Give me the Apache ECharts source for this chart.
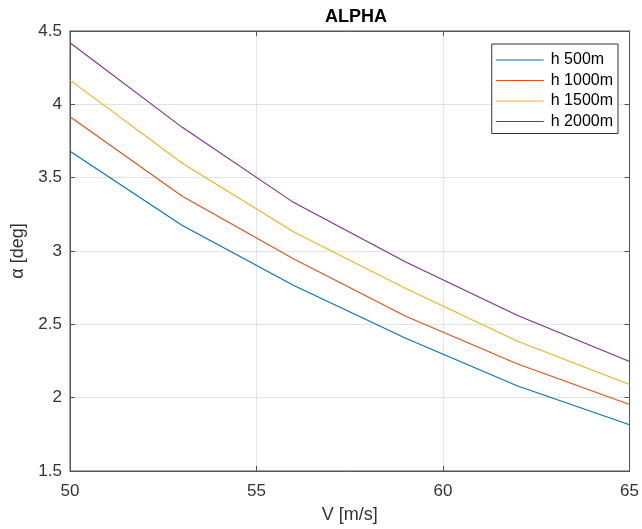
<!DOCTYPE html>
<html><head><meta charset="utf-8">
<script src="https://cdn.jsdelivr.net/npm/echarts@6/dist/echarts.min.js"></script>
<style>html,body{margin:0;padding:0;background:#fff}#c{width:642px;height:529px}</style>
</head><body><div id="c"></div>
<script>
const speeds = [50, 53, 56, 59, 62, 65];
const seriesNames = ['h 500m', 'h 1000m', 'h 1500m', 'h 2000m'];
const h500 = [3.68, 3.175, 2.765, 2.405, 2.08, 1.815];
const h1000 = [3.915, 3.375, 2.945, 2.555, 2.23, 1.953];
const h1500 = [4.165, 3.60, 3.13, 2.745, 2.385, 2.09];
const h2000 = [4.42, 3.845, 3.33, 2.925, 2.56, 2.246];
const colors = ['#0072BD', '#D95319', '#EDB120', '#7E2F8E'];
const allData = [h500, h1000, h1500, h2000];

const font = 'Liberation Sans, Arial, Helvetica, sans-serif';
const txt = '#333333';
const axc = '#555555';
const chart = echarts.init(document.getElementById('c'), null, {renderer: 'canvas'});
const series = seriesNames.map((n, i) => ({
  name: n, type: 'line', symbol: 'none', showSymbol: false,
  xAxisIndex: 0, yAxisIndex: 0,
  data: speeds.map((x, j) => [x, allData[i][j]]),
  lineStyle: {color: colors[i], width: 1.1}, itemStyle: {color: colors[i]},
  emphasis: {disabled: true}
}));
const axTick = {show: true, inside: true, length: 5, lineStyle: {color: axc}};
chart.setOption({
  animation: false,
  title: {text: 'ALPHA', left: 351, top: 3, textAlign: 'center',
    textStyle: {fontFamily: font, fontWeight: 'bold', fontSize: 18, color: '#000'}},
  grid: {left: 70, right: 10, top: 31, bottom: 55, show: true, borderColor: axc, borderWidth: 1},
  legend: {
    orient: 'vertical', right: 24, top: 44, data: seriesNames,
    icon: 'rect',
    backgroundColor: '#fff', borderColor: '#333', borderWidth: 1,
    padding: [8, 5, 4, 4], itemWidth: 48, itemHeight: 1.2, itemGap: 4.5,
    textStyle: {fontFamily: font, fontSize: 16, color: '#000', lineHeight: 16, padding: [0, 0, 0, 2]}
  },
  xAxis: [{
    type: 'value', min: 50, max: 65, interval: 5,
    name: 'V [m/s]', nameLocation: 'middle', nameGap: 35,
    nameTextStyle: {fontFamily: font, fontSize: 18, color: txt},
    axisLine: {show: true, lineStyle: {color: axc}},
    axisTick: axTick,
    axisLabel: {fontFamily: font, fontSize: 17, color: txt, margin: 12},
    splitLine: {show: true, lineStyle: {color: '#e3e3e3', width: 1}}
  }, {
    type: 'value', min: 50, max: 65, interval: 5, position: 'top',
    axisLine: {show: true, lineStyle: {color: axc}}, axisTick: axTick,
    axisLabel: {show: false}, splitLine: {show: false}
  }],
  yAxis: [{
    type: 'value', min: 1.5, max: 4.5, interval: 0.5,
    name: 'α [deg]', nameLocation: 'middle', nameGap: 37, nameRotate: 90,
    nameTextStyle: {fontFamily: font, fontSize: 18, color: txt},
    axisLine: {show: true, lineStyle: {color: axc}},
    axisTick: axTick,
    axisLabel: {fontFamily: font, fontSize: 17, color: txt, margin: 8},
    splitLine: {show: true, lineStyle: {color: '#e3e3e3', width: 1}}
  }, {
    type: 'value', min: 1.5, max: 4.5, interval: 0.5, position: 'right',
    axisLine: {show: true, lineStyle: {color: axc}}, axisTick: axTick,
    axisLabel: {show: false}, splitLine: {show: false}
  }],
  series: series
});
</script></body></html>
